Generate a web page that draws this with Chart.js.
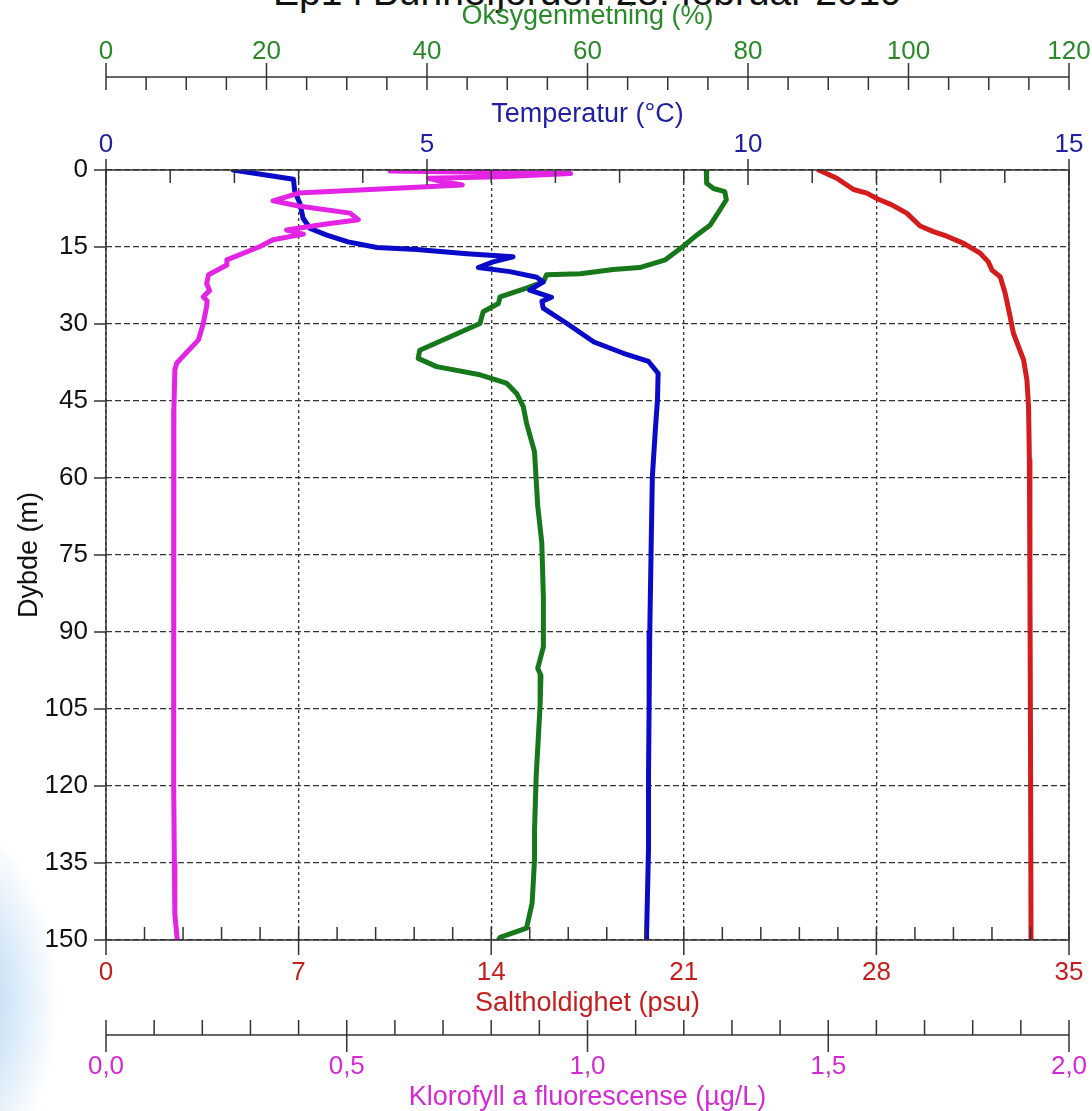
<!DOCTYPE html>
<html>
<head>
<meta charset="utf-8">
<script src="https://cdn.jsdelivr.net/npm/chart.js@4/dist/chart.umd.min.js"></script>
<style>
html,body{margin:0;padding:0;background:#fff;overflow:hidden;}
#wrap{position:relative;width:1092px;height:1111px;overflow:hidden;background:#fff;}
#bg{position:absolute;left:-90px;top:820px;width:150px;height:330px;
  background:radial-gradient(ellipse at 30% 55%, rgba(150,195,235,0.8) 0%, rgba(195,222,245,0.65) 40%, rgba(255,255,255,0) 70%);}
#title{position:absolute;top:-30px;left:106px;width:963px;text-align:center;
  font:39px "Liberation Sans", Arial, sans-serif;color:#111;white-space:nowrap;}
canvas{position:absolute;left:0;top:0;}
</style>
</head>
<body>
<div id="wrap">
  <div id="bg"></div>
  <div id="title">Ep1 i Bunnefjorden 28. februar 2019</div>
  <canvas id="c" width="1092" height="1111"></canvas>
</div>
<script>
// ---------- DATA ----------
// Salinity (psu) vs depth (m)
const salDepth = [0, 1.6, 3.8, 4.5, 5.7, 6.8, 8.4, 10.9, 12.0, 12.9, 14.3, 16.2, 17.9, 19.5, 20.8, 24.0, 28.6, 31.8, 37.0, 40.9, 46.1, 56.5, 80, 110, 150];
const salValue = [25.9, 26.56, 27.17, 27.65, 28.07, 28.56, 29.1, 29.59, 30.07, 30.56, 31.17, 31.77, 32.07, 32.2, 32.5, 32.68, 32.86, 32.98, 33.35, 33.47, 33.53, 33.56, 33.58, 33.6, 33.62];

// Temperature (°C) vs depth (m)
const tempDepth = [0, 1.8, 4.2, 6.5, 9.4, 11.4, 12.7, 14.0, 15.1, 15.5, 16.3, 16.9, 17.9, 19.0, 19.8, 20.9, 21.8, 23.4, 24.8, 25.6, 26.9, 29.9, 33.5, 35.7, 37.3, 39.6, 44.8, 50.0, 59.8, 74.6, 90.0, 104.1, 118.2, 132.3, 149.1, 150];
const tempValue = [1.98, 2.92, 2.94, 3.02, 3.07, 3.18, 3.44, 3.77, 4.22, 4.84, 5.62, 6.34, 6.03, 5.80, 6.29, 6.71, 6.81, 6.60, 6.94, 6.79, 6.81, 7.18, 7.60, 8.06, 8.45, 8.60, 8.59, 8.56, 8.51, 8.49, 8.47, 8.46, 8.45, 8.45, 8.42, 8.42];

// Oxygen saturation (%) vs depth (m)
const oxyDepth = [0, 2.6, 3.6, 4.2, 5.8, 7.8, 10.7, 12.7, 14.9, 17.5, 19.0, 19.4, 20.2, 20.4, 21.8, 23.0, 24.7, 26.0, 27.6, 29.9, 32.5, 35.1, 36.7, 38.3, 39.9, 41.5, 43.6, 46.1, 49.3, 54.9, 65.5, 72.5, 83.1, 92.9, 97.1, 98.5, 104.1, 118.2, 128.7, 134.3, 142.8, 147.7, 149.5, 150];
const oxyValue = [74.8, 74.85, 75.7, 77.1, 77.3, 76.5, 75.3, 73.6, 71.9, 69.7, 66.5, 63.2, 59.1, 54.9, 54.5, 52.4, 49.1, 48.9, 47.0, 46.6, 42.9, 39.1, 38.9, 41.2, 46.6, 49.9, 51.2, 52.0, 52.4, 53.4, 53.8, 54.3, 54.5, 54.5, 53.8, 54.2, 54.1, 53.6, 53.4, 53.4, 53.1, 52.4, 49.1, 48.9];

// Chlorophyll a fluorescence (µg/L) vs depth (m)
const chlDepth = [0.2, 0.7, 1.3, 1.6, 2.3, 2.9, 4.5, 6.0, 7.0, 8.4, 9.7, 10.6, 11.7, 12.5, 13.6, 14.9, 17.5, 18.5, 20.4, 22.1, 23.5, 24.7, 25.5, 26.6, 29.9, 33.1, 37.6, 38.9, 46.7, 60, 75, 90, 105, 120, 135, 145, 150];
const chlValue = [0.59, 0.965, 0.82, 0.67, 0.70, 0.74, 0.40, 0.347, 0.40, 0.507, 0.524, 0.45, 0.375, 0.41, 0.347, 0.32, 0.251, 0.251, 0.213, 0.209, 0.215, 0.202, 0.21, 0.209, 0.202, 0.192, 0.147, 0.143, 0.141, 0.140, 0.141, 0.140, 0.141, 0.141, 0.142, 0.143, 0.148];

// Tick labels
const depthTicks = [0, 15, 30, 45, 60, 75, 90, 105, 120, 135, 150];
const salTicks = [0, 7, 14, 21, 28, 35];
const tempTicks = [0, 5, 10, 15];
const oxyTicks = [0, 20, 40, 60, 80, 100, 120];
const chlTicks = [0, 0.5, 1.0, 1.5, 2.0];
const chlTickLabels = ['0,0', '0,5', '1,0', '1,5', '2,0'];

// ---------- CHART ----------
const FAM = "'Liberation Sans', Arial, sans-serif";
const TICK = {size: 26, family: FAM, lineHeight: 1};
const TTL = {size: 27, family: FAM, lineHeight: 1};
const C = {
  sal: '#d41c1c', salTxt: '#c41e1e',
  temp: '#0a0ac8', tempTxt: '#1f1fa0',
  oxy: '#16781a', oxyTxt: '#2a8a2a',
  chl: '#e424e4', chlTxt: '#d42ad4'
};
const pts = (d, v) => d.map((y, i) => ({x: v[i], y: y}));
const setTicks = arr => s => { s.ticks = arr.map(v => ({value: v})); };
const fitH = h => s => { s.height = h; s.paddingLeft = 0; s.paddingRight = 0; };

const deco = {
  id: 'deco',
  afterDraw(chart) {
    const ctx = chart.ctx, a = chart.chartArea, S = chart.scales;
    ctx.save();
    ctx.strokeStyle = '#333';
    ctx.lineWidth = 1.5;
    const seg = (x1, y1, x2, y2) => { ctx.beginPath(); ctx.moveTo(x1, y1); ctx.lineTo(x2, y2); ctx.stroke(); };
    ctx.strokeRect(a.left, a.top, a.right - a.left, a.bottom - a.top);
    // temperature ticks on top border
    for (let v = 0; v <= 15; v++) {
      const x = S.xTemp.getPixelForValue(v);
      if (v % 5 === 0) seg(x, a.top - 11, x, a.top + 15); else seg(x, a.top, x, a.top + 13);
    }
    // salinity ticks on bottom border
    for (let i = 0; i <= 25; i++) {
      const x = S.xSal.getPixelForValue(i * 1.4);
      if (i % 5 === 0) seg(x, a.bottom - 13, x, a.bottom + 15); else seg(x, a.bottom, x, a.bottom - 13);
    }
    // depth ticks
    for (const v of depthTicks) { const y = S.y.getPixelForValue(v); seg(a.left - 12, y, a.left, y); }
    // oxygen separate axis
    const oy = S.xOxy.bottom - 13;
    seg(a.left, oy, a.right, oy);
    for (let v = 0; v <= 120; v += 5) {
      const x = S.xOxy.getPixelForValue(v);
      if (v % 20 === 0) seg(x, oy - 14, x, oy + 13); else seg(x, oy, x, oy + 13);
    }
    // chlorophyll separate axis
    const cy = S.xChl.top + 17;
    seg(a.left, cy, a.right, cy);
    for (let i = 0; i <= 20; i++) {
      const x = S.xChl.getPixelForValue(i / 10);
      if (i % 5 === 0) seg(x, cy - 15, x, cy + 17); else seg(x, cy - 15, x, cy);
    }
    ctx.restore();
  }
};

const lineDs = (label, data, color, axis) => ({
  label, data, xAxisID: axis, yAxisID: 'y',
  borderColor: color, backgroundColor: color, borderWidth: 5,
  pointRadius: 0, tension: 0, fill: false, showLine: true,
  borderJoinStyle: 'round', borderCapStyle: 'round'
});

new Chart(document.getElementById('c'), {
  type: 'scatter',
  data: {
    datasets: [
      lineDs('Klorofyll a', pts(chlDepth, chlValue), C.chl, 'xChl'),
      lineDs('Temperatur', pts(tempDepth, tempValue), C.temp, 'xTemp'),
      lineDs('Oksygenmetning', pts(oxyDepth, oxyValue), C.oxy, 'xOxy'),
      lineDs('Saltholdighet', pts(salDepth, salValue), C.sal, 'xSal')
    ]
  },
  options: {
    responsive: false,
    animation: false,
    devicePixelRatio: 1,
    layout: {padding: {left: 0, right: 23, top: 0, bottom: 0}},
    plugins: {legend: {display: false}, tooltip: {enabled: false}, title: {display: false}},
    scales: {
      y: {
        type: 'linear', position: 'left', reverse: true, min: 0, max: 150,
        afterBuildTicks: setTicks(depthTicks),
        ticks: {color: '#111', font: TICK, padding: 18},
        grid: {drawTicks: false, color: '#333', lineWidth: 1.3},
        border: {display: false, dash: [6, 3]},
        title: {display: true, text: 'Dybde (m)', color: '#111', font: TTL, padding: {top: 16, bottom: 0}},
        afterFit: s => { s.width = 106; s.paddingTop = 0; s.paddingBottom = 0; }
      },
      xSal: {
        type: 'linear', position: 'bottom', min: 0, max: 35, weight: 1,
        afterBuildTicks: setTicks(salTicks),
        ticks: {color: C.salTxt, font: TICK, padding: 20, maxRotation: 0},
        grid: {drawTicks: false, color: '#333', lineWidth: 1.3},
        border: {display: false, dash: [3, 3]},
        title: {display: true, text: 'Saltholdighet (psu)', color: C.salTxt, font: TTL, padding: {top: 0, bottom: 1}},
        afterFit: fitH(78)
      },
      xChl: {
        type: 'linear', position: 'bottom', min: 0, max: 2, weight: 2,
        afterBuildTicks: setTicks(chlTicks),
        ticks: {color: C.chlTxt, font: TICK, padding: 36, maxRotation: 0,
          callback: (v, i) => chlTickLabels[i]},
        grid: {display: false, drawTicks: false},
        border: {display: false},
        title: {display: true, text: 'Klorofyll a fluorescense (\u00b5g/L)', color: C.chlTxt, font: TTL, padding: {top: 0, bottom: 0}},
        afterFit: fitH(93)
      },
      xTemp: {
        type: 'linear', position: 'top', min: 0, max: 15, weight: 1,
        afterBuildTicks: setTicks(tempTicks),
        ticks: {color: C.tempTxt, font: TICK, padding: 12, maxRotation: 0},
        grid: {display: false, drawTicks: false},
        border: {display: false},
        title: {display: true, text: 'Temperatur (\u00b0C)', color: C.tempTxt, font: TTL, padding: {top: 11, bottom: 0}},
        afterFit: fitH(80)
      },
      xOxy: {
        type: 'linear', position: 'top', min: 0, max: 120, weight: 2,
        afterBuildTicks: setTicks(oxyTicks),
        ticks: {color: C.oxyTxt, font: TICK, padding: 25, maxRotation: 0},
        grid: {display: false, drawTicks: false},
        border: {display: false},
        title: {display: true, text: 'Oksygenmetning (%)', color: C.oxyTxt, font: TTL, padding: {top: 3, bottom: 0}},
        afterFit: fitH(90)
      }
    }
  },
  plugins: [deco]
});
</script>
</body>
</html>
